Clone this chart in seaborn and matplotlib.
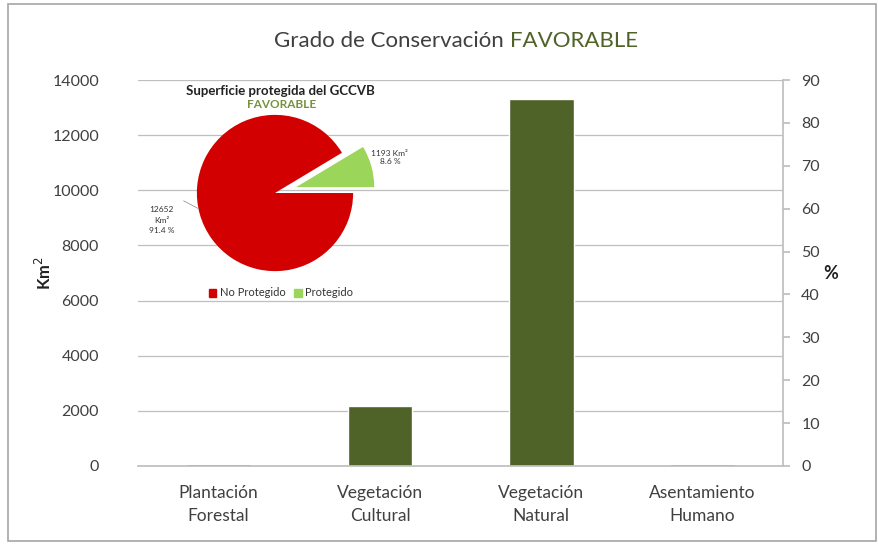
import matplotlib
matplotlib.use("Agg")
import matplotlib.pyplot as plt
from matplotlib.patches import Rectangle
import pandas as pd
import seaborn as sns

# ── Data ──────────────────────────────────────────────────────────────────────
categories = ["Plantación\nForestal", "Vegetación\nCultural", "Vegetación\nNatural", "Asentamiento\nHumano"]
superficie_km2 = [70, 2180, 13330, 70]

pie_labels = ["No Protegido", "Protegido"]
pie_values = [12652, 1193]
pie_pct = [91.4, 8.6]

# ── Style ─────────────────────────────────────────────────────────────────────
sns.set_theme(style="white")
plt.rcParams["font.family"] = ["Lato", "DejaVu Sans"]

OLIVE = "#4F6228"
GRID = "#BFBFBF"
TEXT = "#404040"
RED = "#D20000"
LIGHT_GREEN = "#9BD65A"

fig = plt.figure(figsize=(8.79, 5.45), dpi=100)
fig.patches.append(Rectangle((0.009, 0.008), 0.988, 0.985, transform=fig.transFigure,
                             fill=False, edgecolor="#A6A6A6", linewidth=1.2))

ax = fig.add_axes([0.157, 0.145, 0.734, 0.708])
df = pd.DataFrame({"cat": categories, "km2": superficie_km2})
sns.barplot(data=df, x="cat", y="km2", color=OLIVE, width=0.4, saturation=1, ax=ax)
ax.set_ylim(0, 14000)
ax.set_yticks(range(0, 14001, 2000))
ax.grid(axis="y", color=GRID, linewidth=0.9)
ax.set_axisbelow(True)
for s in ("left", "top", "right"):
    ax.spines[s].set_visible(False)
ax.spines["bottom"].set_color(GRID)
ax.tick_params(axis="y", length=0, labelsize=11.5, labelcolor=TEXT, pad=28)
ax.tick_params(axis="x", length=0, labelsize=12.5, labelcolor=TEXT, pad=14)
for lbl in ax.get_xticklabels():
    lbl.set_linespacing(1.5)
ax.set_xlabel("")
ax.set_ylabel("Km$^2$", fontsize=12, fontweight="bold", color="#222222")
ax.yaxis.set_label_coords(-0.13, 0.5)

ax2 = ax.twinx()
ax2.set_ylim(0, 90)
ax2.set_yticks(range(0, 91, 10))
for s in ("left", "top", "bottom"):
    ax2.spines[s].set_visible(False)
ax2.spines["right"].set_color(GRID)
ax2.tick_params(axis="y", length=5, color=GRID, labelsize=11.5, labelcolor=TEXT, pad=8,
                direction="out")
ax2.set_ylabel("%", fontsize=13, fontweight="bold", color="#222222", rotation=0, va="center")
ax2.yaxis.set_label_coords(1.073, 0.5)
ax2.grid(False)

# Title (two colours)
fig.text(510 / 879, 0.925, "Grado de Conservación ", ha="right", va="center", fontsize=16,
         color=TEXT)
fig.text(510 / 879, 0.925, "FAVORABLE", ha="left", va="center", fontsize=16, color=OLIVE)

# ── Pie inset ─────────────────────────────────────────────────────────────────
pax = fig.add_axes([175 / 879, 1 - 293 / 545, 200 / 879, 200 / 545])
pax.pie(pie_values, colors=[RED, LIGHT_GREEN], startangle=31, explode=[0, 0.28],
        wedgeprops=dict(edgecolor="none"))
pax.set_xlim(-1.28, 1.28)
pax.set_ylim(-1.28, 1.28)
pax.set_aspect("equal")
pax.axis("off")

pax.text(1.47, 0.45, f"{pie_values[1]} Km²\n{pie_pct[1]} %", fontsize=6, color="#333333",
         ha="center", va="center")
pax.text(-1.45, -0.35, f"{pie_values[0]}\nKm²\n{pie_pct[0]} %", fontsize=6, color="#333333",
         ha="center", va="center", linespacing=1.6)
pax.plot([-1.17, -0.98], [-0.1, -0.2], color="#888888", linewidth=0.5)

fig.text(280 / 879, 1 - 91 / 545, "Superficie protegida del GCCVB", fontsize=9.5,
         fontweight="bold", color="#222222", ha="center", va="center")
fig.text(282 / 879, 1 - 104 / 545, "FAVORABLE", fontsize=8.5, fontweight="bold",
         color="#76923C", ha="center", va="center")

handles = [Rectangle((0, 0), 1, 1, color=RED), Rectangle((0, 0), 1, 1, color=LIGHT_GREEN)]
fig.legend(handles, pie_labels, loc="center", bbox_to_anchor=(281 / 879, 1 - 293 / 545),
           ncol=2, frameon=False, fontsize=8, handlelength=0.7, handleheight=0.7,
           handletextpad=0.3, columnspacing=0.8, labelcolor="#333333")

fig.savefig("out.png", dpi=100)
